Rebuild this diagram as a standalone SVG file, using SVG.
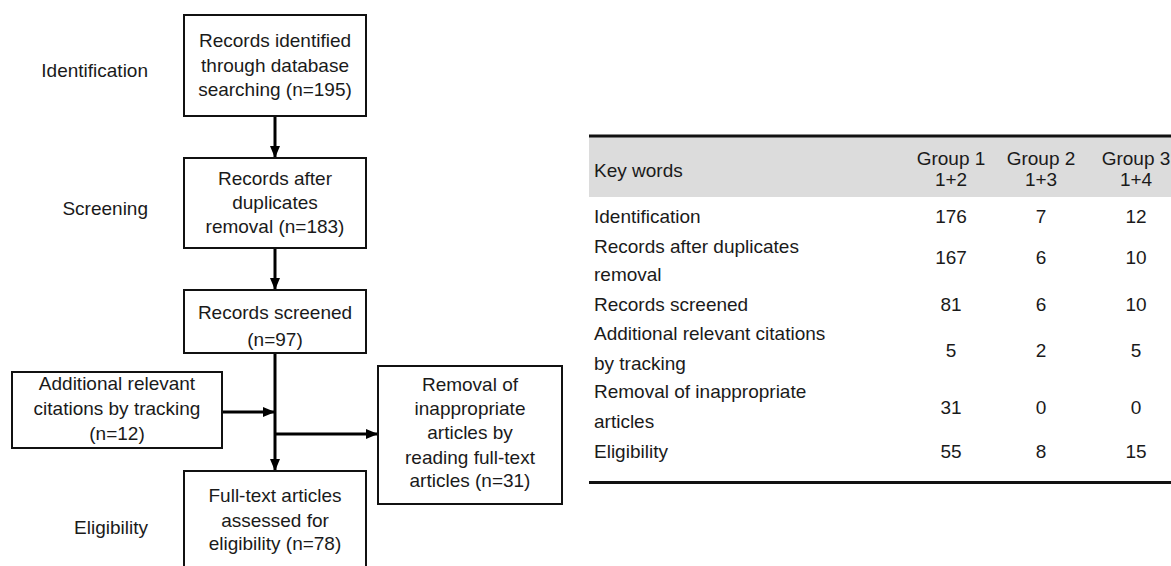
<svg xmlns="http://www.w3.org/2000/svg" width="1171" height="566" viewBox="0 0 1171 566">
<defs>
<style>
text{font-family:"Liberation Sans",Arial,Helvetica,sans-serif;font-size:19px;fill:#1a1a1a}
.c{text-anchor:middle}
.e{text-anchor:end}
.box{fill:#fff;stroke:#111;stroke-width:2}
.conn{stroke:#000;stroke-width:3;fill:none}
.rule{stroke:#111;stroke-width:3}
</style>
<marker id="arr" markerUnits="userSpaceOnUse" viewBox="0 0 12 10" markerWidth="12" markerHeight="10" refX="12" refY="5" orient="auto">
<path d="M0,0 L12,5 L0,10 z" fill="#000"/>
</marker>
</defs>
<rect width="1171" height="566" fill="#fff"/>

<g id="phase-labels">
<text class="e" x="148" y="77">Identification</text>
<text class="e" x="148" y="215">Screening</text>
<text class="e" x="148" y="534">Eligibility</text>
</g>

<g id="connectors">
<line class="conn" x1="275" y1="117" x2="275" y2="158" marker-end="url(#arr)"/>
<line class="conn" x1="275" y1="248" x2="275" y2="290" marker-end="url(#arr)"/>
<line class="conn" x1="275" y1="353" x2="275" y2="471" marker-end="url(#arr)"/>
<line class="conn" x1="222" y1="412" x2="275" y2="412" marker-end="url(#arr)"/>
<line class="conn" x1="275" y1="434" x2="378" y2="434" marker-end="url(#arr)"/>
</g>

<g id="node-identified">
<rect class="box" x="184" y="15" width="182" height="101"/>
<text class="c" x="275" y="47">Records identified</text>
<text class="c" x="275" y="71.5">through database</text>
<text class="c" x="275" y="96">searching (n=195)</text>
</g>

<g id="node-duplicates">
<rect class="box" x="184" y="158" width="182" height="90"/>
<text class="c" x="275" y="184.5">Records after</text>
<text class="c" x="275" y="208.5">duplicates</text>
<text class="c" x="275" y="233">removal (n=183)</text>
</g>

<g id="node-screened">
<rect class="box" x="184" y="290" width="182" height="63"/>
<text class="c" x="275" y="319">Records screened</text>
<text class="c" x="275" y="346">(n=97)</text>
</g>

<g id="node-additional">
<rect class="box" x="12" y="372" width="210" height="76"/>
<text class="c" x="117" y="390">Additional relevant</text>
<text class="c" x="117" y="415">citations by tracking</text>
<text class="c" x="117" y="440">(n=12)</text>
</g>

<g id="node-removal">
<rect class="box" x="378" y="366" width="184" height="138"/>
<text class="c" x="470" y="391">Removal of</text>
<text class="c" x="470" y="415">inappropriate</text>
<text class="c" x="470" y="439">articles by</text>
<text class="c" x="470" y="464">reading full-text</text>
<text class="c" x="470" y="487">articles (n=31)</text>
</g>

<g id="node-eligibility">
<rect class="box" x="184" y="471" width="182" height="110"/>
<text class="c" x="275" y="501.5">Full-text articles</text>
<text class="c" x="275" y="526.5">assessed for</text>
<text class="c" x="275" y="550">eligibility (n=78)</text>
</g>

<g id="table">
<rect x="589" y="137" width="582" height="60" fill="#dcdcdc"/>
<line class="rule" x1="589" y1="136" x2="1171" y2="136"/>
<line class="rule" x1="589" y1="482.5" x2="1171" y2="482.5"/>
<text x="594" y="177">Key words</text>
<text class="c" x="951" y="165">Group 1</text>
<text class="c" x="1041" y="165">Group 2</text>
<text class="c" x="1136" y="165">Group 3</text>
<text class="c" x="951" y="186">1+2</text>
<text class="c" x="1041" y="186">1+3</text>
<text class="c" x="1136" y="186">1+4</text>

<text x="594" y="223">Identification</text>
<text class="c" x="951" y="223">176</text>
<text class="c" x="1041" y="223">7</text>
<text class="c" x="1136" y="223">12</text>

<text x="594" y="253">Records after duplicates</text>
<text x="594" y="281">removal</text>
<text class="c" x="951" y="264">167</text>
<text class="c" x="1041" y="264">6</text>
<text class="c" x="1136" y="264">10</text>

<text x="594" y="311">Records screened</text>
<text class="c" x="951" y="311">81</text>
<text class="c" x="1041" y="311">6</text>
<text class="c" x="1136" y="311">10</text>

<text x="594" y="340">Additional relevant citations</text>
<text x="594" y="370">by tracking</text>
<text class="c" x="951" y="357">5</text>
<text class="c" x="1041" y="357">2</text>
<text class="c" x="1136" y="357">5</text>

<text x="594" y="398">Removal of inappropriate</text>
<text x="594" y="428">articles</text>
<text class="c" x="951" y="414">31</text>
<text class="c" x="1041" y="414">0</text>
<text class="c" x="1136" y="414">0</text>

<text x="594" y="458">Eligibility</text>
<text class="c" x="951" y="458">55</text>
<text class="c" x="1041" y="458">8</text>
<text class="c" x="1136" y="458">15</text>
</g>
</svg>
